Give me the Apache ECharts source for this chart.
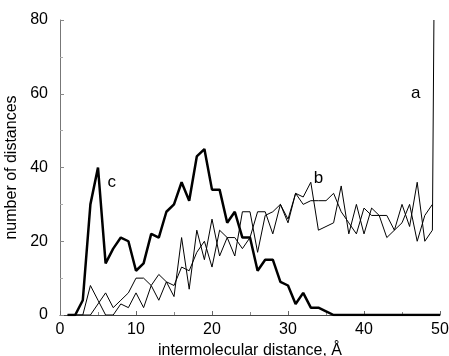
<!DOCTYPE html>
<html>
<head>
<meta charset="utf-8">
<script src="https://cdn.jsdelivr.net/npm/echarts@6/dist/echarts.min.js"></script>
<style>html,body{margin:0;padding:0;background:#fff}#c{width:449px;height:356px}</style>
</head>
<body>
<div id="c"></div>
<script>
var distances = [1,2,3,4,5,6,7,8,9,10,11,12,13,14,15,16,17,18,19,20,21,22,23,24,25,26,27,28,29,30,31,32,33,34,35,36,37,38,39,40,41,42,43,44,45,46,47,48,49,50];
var seriesA = [0,0,0,8,4,0,0,3,2,6,2,8,11,9,5,21,7,23,15,26,16,21,16,28,28,17,27,28,30,25,33,32,36,23,24,25,35,22,30,22,29,27,21,23,30,24,36,20,23];
var spikeA = [49.2, 80];
var seriesB = [0,0,0,0,3,6,2,4,6,10,10,8,4,9,8,13,12,17,20,13,23,21,21,18,21,28,28,22,30,26,33,30,31,31,31,33,28,25,22,29,27,27,27,23,25,30,20,27,30];
var seriesC = [0,0,4,30,40,14,18,21,20,12,14,22,21,28,30,36,31,43,45,34,34,25,28,21,21,12,15,15,9,8,3,6,2,2,1,0,0,0,0,0,0,0,0,0,0,0,0,0,0,0];
var xTicks = [0,10,20,30,40,50];
var yTicks = [0,20,40,60,80];
var labelA = [46.8, 60], labelB = [34, 37], labelC = [6.8, 36];

function pairs(v){ return v.map(function(y,i){ return [distances[i], y]; }); }
var font = 'Liberation Sans, Arial, sans-serif';
function tag(txt, pos){
  return { symbol:'circle', symbolSize:0, silent:true,
    label:{show:true, position:'inside', formatter:txt, color:'#000', fontSize:17, fontFamily:font},
    data:[{coord:pos}] };
}
var chart = echarts.init(document.getElementById('c'));
chart.setOption({
  animation:false,
  grid:{left:60, right:9, top:20, bottom:41, containLabel:false, outerBoundsMode:'none'},
  xAxis:{
    type:'value', min:0, max:50, interval:10,
    name:'intermolecular distance, \u00c5', nameLocation:'middle', nameGap:28,
    nameTextStyle:{color:'#000', fontSize:16, fontFamily:font},
    axisLine:{show:true, lineStyle:{color:'#444', width:1}},
    axisTick:{show:true, inside:true, length:4, lineStyle:{color:'#666'}},
    minorTick:{show:true, splitNumber:2, length:3, lineStyle:{color:'#888'}},
    splitLine:{show:false},
    axisLabel:{color:'#000', fontSize:16, fontFamily:font, margin:7,
      formatter:function(v){ return xTicks.indexOf(v)>=0 ? String(v) : ''; }}
  },
  yAxis:{
    type:'value', min:0, max:80, interval:20,
    name:'number of distances', nameLocation:'middle', nameGap:40,
    nameTextStyle:{color:'#000', fontSize:16, fontFamily:font},
    axisLine:{show:true, lineStyle:{color:'#777', width:1}},
    axisTick:{show:true, inside:true, length:4, lineStyle:{color:'#888'}},
    minorTick:{show:true, splitNumber:2, length:3, lineStyle:{color:'#aaa'}},
    splitLine:{show:false},
    axisLabel:{color:'#000', fontSize:16, fontFamily:font, margin:12,
      formatter:function(v){ return yTicks.indexOf(v)>=0 ? String(v) : ''; }}
  },
  series:[
    {type:'line', data:pairs(seriesB), symbol:'none', lineStyle:{color:'#000', width:1}, z:2, markPoint:tag('b', labelB)},
    {type:'line', data:pairs(seriesA).concat([spikeA]), symbol:'none', lineStyle:{color:'#000', width:1}, z:2, markPoint:tag('a', labelA)},
    {type:'line', data:pairs(seriesC), symbol:'none', lineStyle:{color:'#000', width:2.5}, z:3, markPoint:tag('c', labelC)}
  ]
});
</script>
</body>
</html>
